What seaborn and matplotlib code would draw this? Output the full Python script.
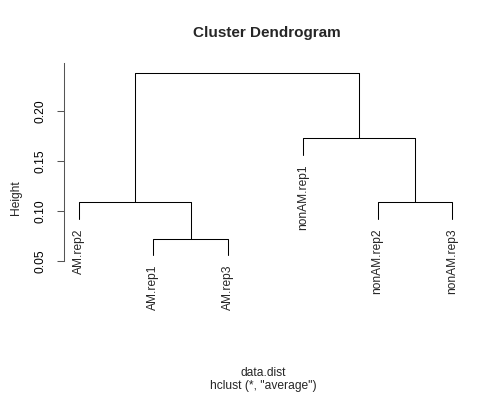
import numpy as np
import pandas as pd
import matplotlib
matplotlib.use("Agg")
import matplotlib.pyplot as plt
import seaborn as sns

# leaves in dendrogram order
labels = ["AM.rep2", "AM.rep1", "AM.rep3", "nonAM.rep1", "nonAM.rep2", "nonAM.rep3"]
# merges: (left node, right node, height); leaves are 0..5, new nodes 6, 7, ...
merge_left = [1, 4, 0, 3, 8]
merge_right = [2, 5, 6, 7, 9]
merge_height = [0.072, 0.1084, 0.1084, 0.1724, 0.2374]
hang = 0.1
y_ticks = [0.05, 0.10, 0.15, 0.20]

sns.set_style("white")
plt.rcParams["font.family"] = ["Liberation Sans", "DejaVu Sans"]

# work out node positions and build the link segments
n = len(labels)
hang_h = hang * (max(merge_height) - min(merge_height))
node_x = {i: float(i + 1) for i in range(n)}
node_y = {}
rows = []
for k, (a, b, h) in enumerate(zip(merge_left, merge_right, merge_height)):
    node = n + k
    for child in (a, b):
        if child < n:
            node_y[child] = h - hang_h
    node_x[node] = (node_x[a] + node_x[b]) / 2
    node_y[node] = h
    xs = [node_x[a], node_x[a], node_x[b], node_x[b]]
    ys = [node_y[a], h, h, node_y[b]]
    for x, y in zip(xs, ys):
        rows.append({"seg": k, "x": x, "y": y})
links = pd.DataFrame(rows)

fig = plt.figure(figsize=(5, 4), dpi=100)
ax = fig.add_axes([63.8 / 500, 1 - 262.5 / 400, 403.4 / 500, 199.5 / 400])
sns.lineplot(data=links, x="x", y="y", units="seg", estimator=None, sort=False,
             color="black", linewidth=0.75, ax=ax)

ax.set_xlim(0.8, 6.2)
ax.set_ylim(0.0482, 0.2477)
for side in ["top", "right", "bottom"]:
    ax.spines[side].set_visible(False)
ax.spines["left"].set_bounds(0.05, 0.2477)
ax.spines["left"].set_color("#555555")
ax.spines["left"].set_linewidth(0.75)
ax.set_xticks([])
ax.set_yticks(y_ticks)
ax.set_yticklabels([f"{t:.2f}" for t in y_ticks], rotation=90, va="center")
ax.tick_params(axis="y", left=True, length=5.4, width=0.75, color="#555555",
               pad=7, labelsize=8.64, labelcolor="black")
ax.set_xlabel("")
ax.set_ylabel("")

for i, lab in enumerate(labels):
    ax.annotate(lab, (node_x[i], node_y[i]), xytext=(0, -7), textcoords="offset points",
                rotation=90, ha="center", va="top", fontsize=8.64)

fig.text(267 / 500, 1 - 32.5 / 400, "Cluster Dendrogram", ha="center", va="center",
         fontsize=11, fontweight="bold")
fig.text(263 / 500, 1 - 373.5 / 400, "data.dist", ha="center", va="center", fontsize=8.64)
fig.text(263 / 500, 1 - 386.5 / 400, 'hclust (*, "average")', ha="center", va="center",
         fontsize=8.64)
fig.text(16 / 500, 1 - 198 / 400, "Height", rotation=90, ha="center", va="center",
         fontsize=8.64)

fig.savefig("out.png", dpi=100)
